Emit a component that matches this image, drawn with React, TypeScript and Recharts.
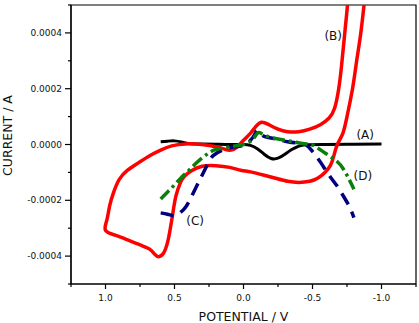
import { LineChart, Line, XAxis, YAxis, ReferenceArea, ReferenceDot } from 'recharts';

// potential (V) / current (A)
const potentialA = [0.6, 0.55, 0.5, 0.45, 0.4, 0.3, 0.2, 0.1, 0.0, -0.05, -0.1, -0.15, -0.2, -0.25, -0.3, -0.35, -0.4, -0.45, -0.6, -0.8, -1.0];
const currentA = [1.0e-5, 1.2e-5, 1.3e-5, 9e-6, 4e-6, 2e-6, 1e-6, 0, 0, -3e-6, -1.5e-5, -3.5e-5, -5.0e-5, -4.9e-5, -3.5e-5, -1.8e-5, -6e-6, -1e-6, 0, 1e-6, 2e-6];

const potentialB = [
  -0.88, -0.85, -0.82, -0.79, -0.75, -0.72, -0.68, -0.655, -0.63, -0.59, -0.54, -0.48, -0.4, -0.32, -0.24, -0.15, -0.05,
  0.02, 0.1, 0.2, 0.3, 0.38, 0.43, 0.46, 0.49, 0.51, 0.53, 0.55, 0.58, 0.615, 0.64, 0.68, 0.75, 0.85, 0.93, 1.0,
  0.99, 0.97, 0.94, 0.9, 0.84, 0.76, 0.68, 0.6, 0.52, 0.42, 0.3, 0.2, 0.13, 0.09, 0.05, 0.0, -0.05, -0.09, -0.13,
  -0.18, -0.25, -0.32, -0.4, -0.48, -0.56, -0.62, -0.66, -0.69, -0.71, -0.73, -0.75, -0.76,
];
const currentB = [
  5.3e-4, 4.0e-4, 3.0e-4, 2.0e-4, 1.0e-4, 4.0e-5, 0, -4.0e-5, -7.5e-5, -1.0e-4, -1.2e-4, -1.32e-4, -1.36e-4, -1.32e-4, -1.22e-4, -1.1e-4, -9.8e-5,
  -9.2e-5, -8.2e-5, -7.6e-5, -7.8e-5, -9.5e-5, -1.15e-4, -1.4e-4, -1.85e-4, -2.4e-4, -3.0e-4, -3.5e-4, -3.9e-4, -4.02e-4, -3.95e-4, -3.75e-4, -3.6e-4, -3.4e-4, -3.25e-4, -3.08e-4,
  -2.7e-4, -2.2e-4, -1.7e-4, -1.25e-4, -9.2e-5, -6.5e-5, -4.0e-5, -2.0e-5, -5e-6, 2e-6, 0, -8e-6, -1.8e-5, -2.0e-5, -1.0e-5, 1.5e-5, 4.0e-5, 6.5e-5, 8.0e-5,
  7.2e-5, 5.5e-5, 4.6e-5, 4.6e-5, 5.5e-5, 7.2e-5, 9.5e-5, 1.3e-4, 2.0e-4, 2.8e-4, 3.8e-4, 4.8e-4, 5.4e-4,
];

const potentialC = [0.6, 0.55, 0.5, 0.46, 0.42, 0.38, 0.34, 0.3, 0.26, 0.22, 0.15, 0.08, 0.0, -0.05, -0.08, -0.1, -0.13, -0.18, -0.25, -0.32, -0.4, -0.45, -0.5, -0.56, -0.62, -0.68, -0.73, -0.77, -0.8];
const currentC = [-2.45e-4, -2.5e-4, -2.55e-4, -2.45e-4, -2.25e-4, -1.9e-4, -1.5e-4, -1.1e-4, -7.0e-5, -4.0e-5, -2.0e-5, -1.0e-5, -2e-6, 1.5e-5, 3.5e-5, 5.0e-5, 3.5e-5, 2.5e-5, 1.8e-5, 1.0e-5, 5e-6, 0, -2.5e-5, -6.5e-5, -1.1e-4, -1.5e-4, -1.9e-4, -2.25e-4, -2.62e-4];

const potentialD = [0.6, 0.55, 0.5, 0.45, 0.4, 0.35, 0.3, 0.25, 0.2, 0.12, 0.05, 0.0, -0.04, -0.07, -0.1, -0.12, -0.15, -0.2, -0.28, -0.36, -0.44, -0.5, -0.56, -0.62, -0.68, -0.72, -0.76, -0.8];
const currentD = [-1.95e-4, -1.7e-4, -1.45e-4, -1.18e-4, -9.5e-5, -7.0e-5, -4.8e-5, -3.0e-5, -1.8e-5, -1.0e-5, -4e-6, 0, 8e-6, 2.0e-5, 4.0e-5, 4.2e-5, 3.4e-5, 2.5e-5, 1.7e-5, 1.0e-5, 3e-6, -2e-6, -2.0e-5, -4.0e-5, -6.2e-5, -8.5e-5, -1.2e-4, -1.6e-4];

const xTicks = [1.25, 1.0, 0.75, 0.5, 0.25, 0, -0.25, -0.5, -0.75, -1.0, -1.25];
const xMajor = [1.0, 0.5, 0, -0.5, -1.0];
const yTicks = [-0.0005, -0.0004, -0.0003, -0.0002, -0.0001, 0, 0.0001, 0.0002, 0.0003, 0.0004, 0.0005];
const yMajor = [-0.0004, -0.0002, 0, 0.0002, 0.0004];

const curveLabels = ['(A)', '(B)', '(C)', '(D)'];
const labelPotential = [-0.882, -0.65, 0.35, -0.865];
const labelCurrent = [3.6e-5, 3.89e-4, -2.74e-4, -1.11e-4];

const zip = (xs: number[], ys: number[]) => xs.map((x, i) => ({ x, y: ys[i] }));

const dataA = zip(potentialA, currentA);
const dataB = zip(potentialB, currentB);
const dataC = zip(potentialC, currentC);
const dataD = zip(potentialD, currentD);

const isMajor = (list: number[], v: number) => list.some((m) => Math.abs(m - v) < 1e-9);

const XTick = (props: any) => {
  const { x, y, payload } = props;
  const major = isMajor(xMajor, payload.value);
  return (
    <g>
      <line x1={x} x2={x} y1={y} y2={y + (major ? 5 : 3)} stroke="#000" strokeWidth={1.2} />
      {major && (
        <text x={x} y={y + 17} textAnchor="middle" fontSize={9} fill="#111">
          {payload.value.toFixed(1)}
        </text>
      )}
    </g>
  );
};

const YTick = (props: any) => {
  const { x, y, payload } = props;
  const major = isMajor(yMajor, payload.value);
  return (
    <g>
      <line x1={x} x2={x - (major ? 6 : 3)} y1={y} y2={y} stroke="#000" strokeWidth={1.2} />
      {major && (
        <text x={x - 9} y={y} dy="0.35em" textAnchor="end" fontSize={9} fill="#111">
          {payload.value.toFixed(4)}
        </text>
      )}
    </g>
  );
};

export default function App() {
  return (
    <div style={{ position: 'absolute', left: 0, top: 0, width: 419, height: 323, background: '#fff', fontFamily: 'DejaVu Sans' }}>
      <LineChart width={419} height={323} margin={{ top: 5, right: 3, bottom: 0, left: 0 }}>
        <XAxis
          type="number"
          dataKey="x"
          domain={[-1.25, 1.25]}
          reversed
          allowDataOverflow
          ticks={xTicks}
          interval={0}
          height={39}
          tickSize={0}
          tickMargin={0}
          tickLine={false}
          tick={<XTick />}
          axisLine={{ stroke: '#000', strokeWidth: 1.2 }}
          label={{ value: 'POTENTIAL / V', position: 'insideBottom', offset: 2, fontSize: 12.5, fill: '#111' }}
        />
        <YAxis
          type="number"
          dataKey="y"
          domain={[-0.0005, 0.0005]}
          allowDataOverflow
          ticks={yTicks}
          interval={0}
          width={71}
          tickSize={0}
          tickMargin={0}
          tickLine={false}
          tick={<YTick />}
          axisLine={{ stroke: '#000', strokeWidth: 1.2 }}
          label={{ value: 'CURRENT / A', angle: -90, position: 'center', dx: -28, dy: -9, fontSize: 12.5, fill: '#111' }}
        />
        <ReferenceArea x1={-1.25} x2={1.25} y1={-0.0005} y2={0.0005} fill="none" stroke="#000" strokeWidth={1.2} />
        <Line data={dataA} dataKey="y" type="natural" stroke="#000" strokeWidth={3} dot={false} isAnimationActive={false} />
        <Line data={dataB} dataKey="y" type="natural" stroke="#ff0000" strokeWidth={3.5} dot={false} isAnimationActive={false} />
        <Line data={dataC} dataKey="y" type="natural" stroke="#00007f" strokeWidth={3.5} strokeDasharray="13 8" dot={false} isAnimationActive={false} />
        <Line data={dataD} dataKey="y" type="natural" stroke="#0a800a" strokeWidth={3.5} strokeDasharray="12 4 3 4" dot={false} isAnimationActive={false} />
        {curveLabels.map((name, i) => (
          <ReferenceDot
            key={name}
            x={labelPotential[i]}
            y={labelCurrent[i]}
            r={0}
            fill="none"
            stroke="none"
            label={{ value: name, position: 'center', fontSize: 12, fill: '#111' }}
          />
        ))}
      </LineChart>
    </div>
  );
}
